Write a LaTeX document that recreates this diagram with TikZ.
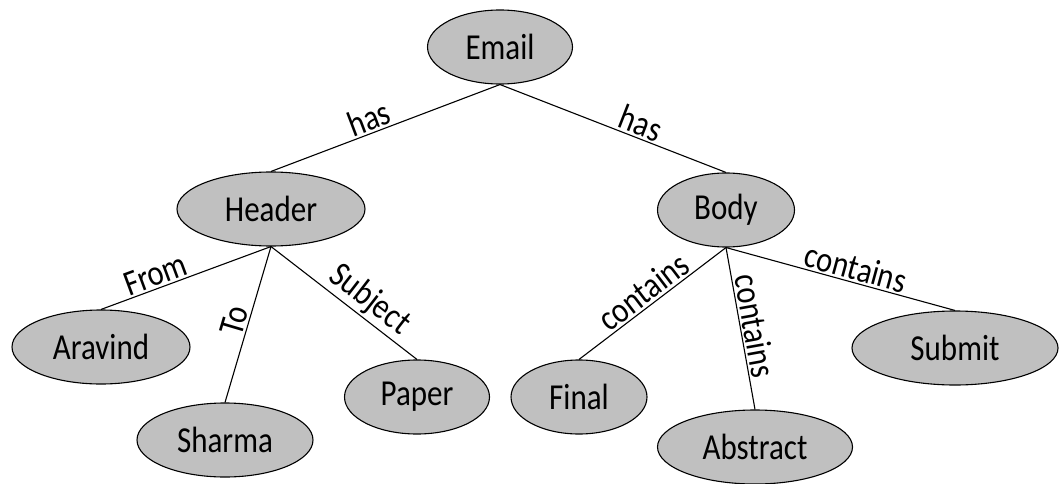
\documentclass[tikz,border=0pt]{standalone}
\usepackage{fontspec}
\setmainfont{Carlito}
\usetikzlibrary{shapes.geometric}
\definecolor{conceptgray}{RGB}{192,192,192}
% tall, narrow lettering
\newcommand{\tall}[1]{\scalebox{1}[1.18]{#1}}
\begin{document}
\begin{tikzpicture}[x=1pt,y=-1pt,
  concept/.style={ellipse, draw=black, line width=1.1pt, fill=conceptgray,
    inner sep=0pt, minimum height=74pt, font=\fontsize{31}{37}\selectfont},
  link/.style={line width=1.1pt},
  rel/.style={sloped, above, inner sep=2pt, font=\fontsize{30.5}{36}\selectfont}]
\useasboundingbox (0,0) rectangle (1059,484);

% concepts
\node[concept, minimum width=145pt] (email)    at (500,47)  {\tall{Email}};
\node[concept, minimum width=188pt] (header)   at (271,209) {\tall{Header}};
\node[concept, minimum width=137pt] (body)     at (726,210) {\tall{Body}};
\node[concept, minimum width=178pt] (aravind)  at (101,347) {\tall{Aravind}};
\node[concept, minimum width=176pt] (sharma)   at (225,440) {\tall{Sharma}};
\node[concept, minimum width=145pt] (paper)    at (417,397) {\tall{Paper}};
\node[concept, minimum width=136pt] (final)    at (579,397) {\tall{Final}};
\node[concept, minimum width=195pt] (abstract) at (755,447) {\tall{Abstract}};
\node[concept, minimum width=206pt] (submit)   at (955,348) {\tall{Submit}};

% relations
\draw[link] (email.south) -- node[rel, pos=0.55] {\tall{has}} (header.north);
\draw[link] (email.south) -- node[rel, pos=0.6] {\tall{has}} (body.north);
\draw[link] (header.south) -- node[rel, pos=0.65] {\tall{From}} (aravind.north);
\draw[link] (header.south) -- node[rel, pos=0.5] {\tall{To}} (sharma.north);
\draw[link] (header.south) -- node[rel, pos=0.6] {\tall{Subject}} (paper.north);
\draw[link] (body.south) -- node[rel, pos=0.5] {\tall{contains}} (final.north);
\draw[link] (body.south) -- node[rel, pos=0.5] {\tall{contains}} (abstract.north);
\draw[link] (body.south) -- node[rel, pos=0.55] {\tall{contains}} (submit.north);
\end{tikzpicture}
\end{document}
